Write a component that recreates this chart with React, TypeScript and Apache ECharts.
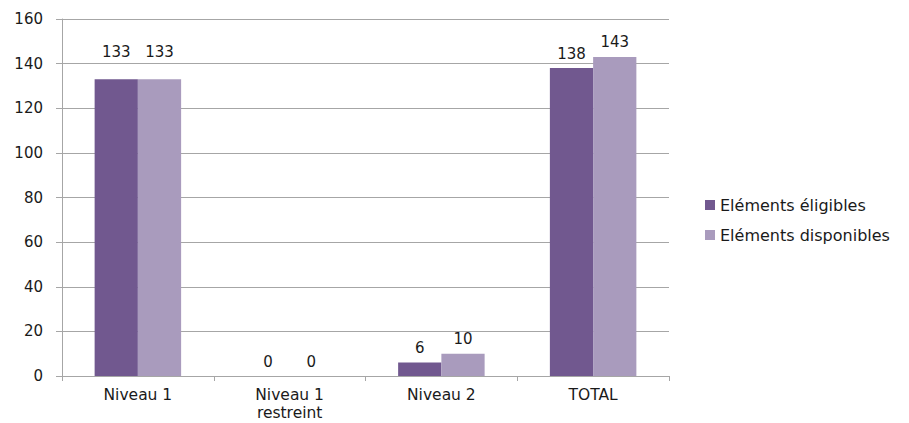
import React, { useEffect, useRef } from "react";
import * as echarts from "echarts";

const categories = ["Niveau 1", "Niveau 1\nrestreint", "Niveau 2", "TOTAL"];
const seriesNames = ["Eléments éligibles", "Eléments disponibles"];
const eligibles = [133, 0, 6, 138];
const disponibles = [133, 0, 10, 143];
const colors = ["#71588F", "#A99BBD"];

const FONT = "DejaVu Sans";
const TXT = "#1a1a1a";

export default function App() {
  const ref = useRef<HTMLDivElement>(null);
  useEffect(() => {
    if (!ref.current) return;
    const chart = echarts.init(ref.current, undefined, {
      renderer: "svg",
      width: 909,
      height: 423,
    });
    const mkData = (vals: number[]) =>
      vals.map((v, i) => (i === 0 ? { value: v, label: { distance: 20 } } : v));
    const labelCfg = {
      show: true,
      position: "top",
      distance: 7,
      fontFamily: FONT,
      fontSize: 15,
      color: TXT,
    };
    chart.setOption({
      animation: false,
      backgroundColor: "#ffffff",
      textStyle: { fontFamily: FONT },
      grid: {
        left: 62,
        right: 240,
        top: 19,
        bottom: 47,
        containLabel: false,
        outerBoundsMode: "none",
      },
      legend: {
        orient: "vertical",
        left: 700,
        top: 192,
        itemWidth: 10,
        itemHeight: 10,
        itemGap: 14,
        icon: "rect",
        textStyle: { fontFamily: FONT, fontSize: 16, color: TXT },
        data: seriesNames,
      },
      xAxis: {
        type: "category",
        data: categories,
        axisLine: { lineStyle: { color: "#a6a6a6", width: 1 } },
        axisTick: { show: true, length: 5, lineStyle: { color: "#a6a6a6" } },
        axisLabel: {
          margin: 10,
          fontFamily: FONT,
          fontSize: 15.5,
          color: TXT,
          lineHeight: 18,
          interval: 0,
        },
      },
      yAxis: {
        type: "value",
        min: 0,
        max: 160,
        interval: 20,
        axisLine: { show: true, lineStyle: { color: "#a6a6a6", width: 1 } },
        axisTick: { show: true, length: 6, lineStyle: { color: "#a6a6a6" } },
        splitLine: { show: true, lineStyle: { color: "#a6a6a6", width: 1 } },
        axisLabel: { margin: 19, fontFamily: FONT, fontSize: 15, color: TXT },
      },
      series: [
        {
          name: seriesNames[0],
          type: "bar",
          data: mkData(eligibles),
          itemStyle: { color: colors[0] },
          barGap: "0%",
          barCategoryGap: "43%",
          label: labelCfg,
        },
        {
          name: seriesNames[1],
          type: "bar",
          data: mkData(disponibles),
          itemStyle: { color: colors[1] },
          barGap: "0%",
          barCategoryGap: "43%",
          label: labelCfg,
        },
      ],
    });
    return () => chart.dispose();
  }, []);
  return (
    <div
      ref={ref}
      style={{ position: "absolute", left: 0, top: 0, width: 909, height: 423 }}
    />
  );
}
